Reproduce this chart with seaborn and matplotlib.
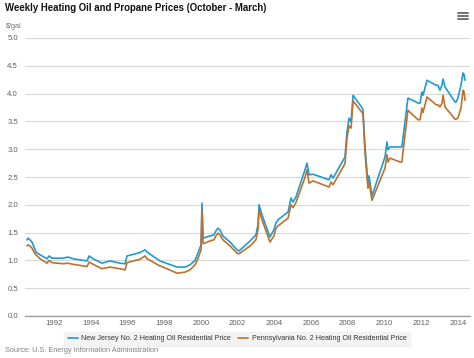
import matplotlib
matplotlib.use("Agg")
import matplotlib.pyplot as plt
from matplotlib.lines import Line2D
import seaborn as sns
import pandas as pd

# Time (decimal years) of line vertices
years = [1990.53, 1990.58, 1990.69, 1990.80, 1990.91, 1991.02, 1991.24, 1991.62, 1991.73, 1991.89,
         1992.49, 1992.76, 1993.03, 1993.80, 1993.91, 1994.07, 1994.61, 1995.05, 1995.59, 1995.87,
         1995.98, 1996.68, 1996.96, 1997.07, 1997.77, 1997.94, 1998.70, 1999.14, 1999.41, 1999.68,
         1999.84, 2000.01, 2000.06, 2000.12, 2000.50, 2000.71, 2000.82, 2000.93, 2001.04, 2001.20,
         2001.59, 2001.97, 2002.08, 2002.68, 2003.00, 2003.11, 2003.17, 2003.33, 2003.76, 2003.98,
         2004.09, 2004.20, 2004.75, 2004.91, 2005.02, 2005.18, 2005.67, 2005.78, 2005.89, 2006.11,
         2006.98, 2007.09, 2007.20, 2007.85, 2007.96, 2008.07, 2008.18, 2008.29, 2008.83, 2008.94,
         2009.10, 2009.16, 2009.32, 2010.03, 2010.14, 2010.19, 2010.30, 2010.85, 2010.95, 2011.01,
         2011.28, 2011.83, 2011.94, 2012.04, 2012.10, 2012.32, 2012.81, 2012.92, 2013.02, 2013.13,
         2013.19, 2013.30, 2013.84, 2013.90, 2014.00, 2014.17, 2014.28, 2014.33, 2014.39]

new_jersey = [1.37, 1.40, 1.37, 1.33, 1.24, 1.15, 1.10, 1.03, 1.08, 1.04,
              1.04, 1.06, 1.03, 0.99, 1.08, 1.04, 0.95, 0.99, 0.95, 0.94,
              1.08, 1.14, 1.19, 1.15, 0.99, 0.97, 0.88, 0.88, 0.92, 1.00,
              1.13, 1.28, 2.03, 1.40, 1.44, 1.46, 1.53, 1.58, 1.55, 1.44,
              1.33, 1.19, 1.17, 1.35, 1.46, 1.64, 2.00, 1.82, 1.42, 1.55,
              1.67, 1.73, 1.87, 2.12, 2.05, 2.14, 2.63, 2.75, 2.54, 2.55,
              2.45, 2.54, 2.48, 2.86, 3.31, 3.56, 3.49, 3.97, 3.72, 3.04,
              2.40, 2.52, 2.16, 2.86, 3.13, 2.99, 3.04, 3.04, 3.04, 3.20,
              3.92, 3.83, 3.83, 4.03, 3.97, 4.24, 4.15, 4.15, 4.06, 4.15,
              4.26, 4.12, 3.85, 3.85, 3.92, 4.15, 4.37, 4.35, 4.24]

pennsylvania = [1.26, 1.28, 1.26, 1.22, 1.15, 1.10, 1.03, 0.95, 1.00, 0.96,
                0.94, 0.95, 0.93, 0.89, 0.97, 0.94, 0.85, 0.88, 0.85, 0.83,
                0.96, 1.02, 1.08, 1.03, 0.90, 0.88, 0.77, 0.79, 0.83, 0.92,
                1.03, 1.19, 1.90, 1.30, 1.35, 1.37, 1.44, 1.49, 1.46, 1.37,
                1.26, 1.13, 1.12, 1.26, 1.37, 1.55, 1.91, 1.73, 1.33, 1.44,
                1.58, 1.62, 1.76, 2.00, 1.95, 2.04, 2.49, 2.63, 2.39, 2.43,
                2.32, 2.41, 2.36, 2.74, 3.20, 3.42, 3.38, 3.87, 3.64, 2.94,
                2.30, 2.42, 2.08, 2.66, 2.90, 2.77, 2.84, 2.77, 2.77, 2.95,
                3.70, 3.53, 3.53, 3.74, 3.66, 3.94, 3.80, 3.80, 3.76, 3.82,
                3.97, 3.76, 3.54, 3.54, 3.56, 3.74, 4.06, 4.04, 3.88]

series_names = ["New Jersey No. 2 Heating Oil Residential Price",
                "Pennsylvania No. 2 Heating Oil Residential Price"]
series_colors = ["#1E9AD6", "#C0702C"]
year_ticks = list(range(1992, 2015, 2))
y_ticks = [0.0, 0.5, 1.0, 1.5, 2.0, 2.5, 3.0, 3.5, 4.0, 4.5, 5.0]

df = pd.concat([
    pd.DataFrame({"year": years, "price": new_jersey, "series": series_names[0]}),
    pd.DataFrame({"year": years, "price": pennsylvania, "series": series_names[1]}),
])

sns.set_theme(style="white")
plt.rcParams["font.family"] = ["Liberation Sans", "DejaVu Sans"]

fig = plt.figure(figsize=(4.74, 3.58), dpi=100)
ax = fig.add_axes([25 / 474, 1 - 316 / 358, 445 / 474, 278 / 358])

sns.lineplot(data=df, x="year", y="price", hue="series", palette=series_colors,
             linewidth=1.2, ax=ax, legend=False, sort=False, estimator=None)

ax.set_xlim(1990.42, 2014.66)
ax.set_ylim(0, 5)
ax.set_yticks(y_ticks)
ax.set_yticklabels([f"{v:.1f}" for v in y_ticks])
ax.set_xticks(year_ticks)
ax.set_xticklabels([str(y) for y in year_ticks])
ax.yaxis.grid(True, color="#D8D8D8", linewidth=0.8)
ax.xaxis.grid(False)
ax.set_axisbelow(True)
for s in ["top", "right", "left"]:
    ax.spines[s].set_visible(False)
ax.spines["bottom"].set_color("#A0A0A0")
ax.spines["bottom"].set_linewidth(1.0)
ax.tick_params(axis="y", length=0, labelsize=5.6, labelcolor="#606060", pad=5)
ax.tick_params(axis="x", length=2.5, width=0.6, color="#A0A0A0", direction="out",
               labelsize=5.6, labelcolor="#606060", pad=0.5)
ax.set_xlabel("")
ax.set_ylabel("")

fig.text(5 / 474, 1 - 3 / 358, "Weekly Heating Oil and Propane Prices (October - March)",
         ha="left", va="top", fontsize=6.9, fontweight="bold", color="#111111")
fig.text(6 / 474, 1 - 27 / 358, "$/gal", ha="left", va="center", fontsize=5.2, color="#707070")
fig.text(5 / 474, 1 - 351 / 358, "Source: U.S. Energy Information Administration",
         ha="left", va="center", fontsize=5.3, color="#808080")

# menu icon
for yy in (13, 16, 19):
    fig.add_artist(Line2D([458 / 474, 468 / 474], [1 - yy / 358, 1 - yy / 358],
                          color="#666666", linewidth=1.3))

handles = [Line2D([0], [0], color=c, linewidth=1.2) for c in series_colors]
leg = fig.legend(handles, series_names, loc="center", bbox_to_anchor=(0.5, 1 - 339 / 358),
                 ncol=2, fontsize=5.1, frameon=True, fancybox=False, handlelength=1.4,
                 handletextpad=0.5, columnspacing=1.0, borderpad=0.45)
leg.get_frame().set_facecolor("#F0F0F0")
leg.get_frame().set_edgecolor("#F0F0F0")
for t in leg.get_texts():
    t.set_color("#333333")

fig.savefig("out.png", dpi=100)
